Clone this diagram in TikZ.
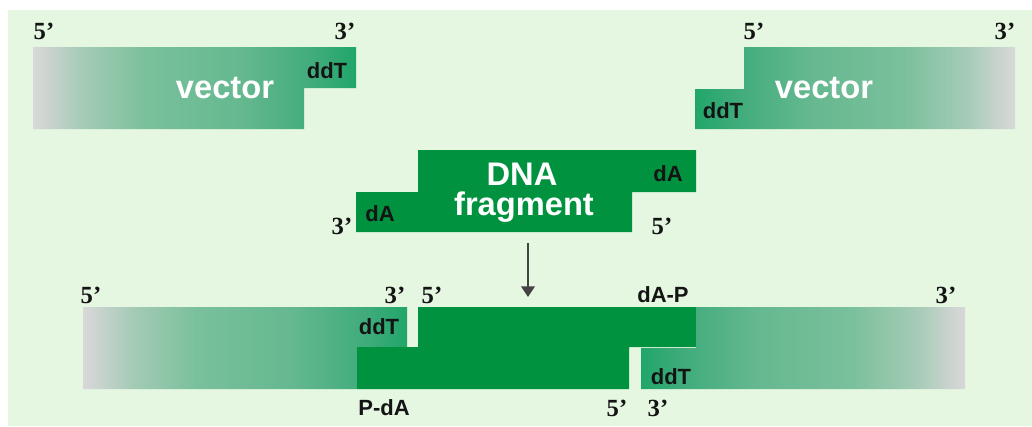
\documentclass[tikz,border=0pt]{standalone}
\usepackage{fontspec}
\setmainfont{Liberation Sans}
\newfontfamily\primefont{Liberation Serif}
\usetikzlibrary{arrows.meta}
\definecolor{bg}{RGB}{229,246,225}
\definecolor{dna}{RGB}{0,146,63}
\definecolor{txt}{RGB}{20,20,20}
\definecolor{arrc}{RGB}{68,68,68}
\definecolor{va}{RGB}{216,216,216}
\definecolor{vb}{RGB}{205,212,208}
\definecolor{vc}{RGB}{165,203,182}
\definecolor{vd}{RGB}{122,192,156}
\definecolor{ve}{RGB}{100,184,143}
\definecolor{vf}{RGB}{62,171,122}
\definecolor{vg}{RGB}{32,166,106}
\pgfdeclarehorizontalshading{vecLR}{100bp}{color(0bp)=(va); color(25bp)=(va); color(27bp)=(vb); color(32.5bp)=(vc); color(42.5bp)=(vd); color(57.5bp)=(ve); color(69bp)=(vf); color(75bp)=(vg); color(100bp)=(vg)}
\pgfdeclarehorizontalshading{vecRL}{100bp}{color(0bp)=(vg); color(25bp)=(vg); color(31bp)=(vf); color(42.5bp)=(ve); color(57.5bp)=(vd); color(67.5bp)=(vc); color(73bp)=(vb); color(75bp)=(va); color(100bp)=(va)}
\tikzset{
  lab/.style={inner sep=0pt, text=txt, font=\fontsize{16.5}{18}\selectfont\bfseries},
  prime/.style={inner sep=0pt, text=txt, font=\fontsize{18.5}{20}\selectfont\primefont\bfseries},
  big/.style={inner sep=0pt, text=white, font=\fontsize{24.5}{26}\selectfont\bfseries},
  arr/.style={draw=arrc, line width=2.2pt, -{Triangle[width=10pt,length=8pt]}}
}
\begin{document}
\begin{tikzpicture}[x=0.75pt,y=-0.75pt]
\useasboundingbox (0,0) rectangle (1032,426);
\fill[bg] (8,10) rectangle (1032,426);
% top-left vector
\shade[shading=vecLR] (33,47) -- (356,47) -- (356,88) -- (304,88) -- (304,129) -- (33,129) -- cycle;
% top-right vector
\shade[shading=vecRL] (744,47) -- (1015,47) -- (1015,129) -- (695,129) -- (695,89) -- (744,89) -- cycle;
% DNA fragment
\fill[dna] (418,150) -- (696,150) -- (696,192) -- (632,192) -- (632,232) -- (356,232) -- (356,192) -- (418,192) -- cycle;
% bottom-left vector
\shade[shading=vecLR] (83,307) -- (407,307) -- (407,347) -- (357,347) -- (357,389) -- (83,389) -- cycle;
% bottom fragment
\fill[dna] (418,307) -- (696,307) -- (696,347) -- (629,347) -- (629,389) -- (357,389) -- (357,347) -- (418,347) -- cycle;
% bottom-right vector
\shade[shading=vecRL] (696,307) -- (965,307) -- (965,389) -- (641,389) -- (641,348) -- (696,348) -- cycle;

% top labels
\node[prime] (t5l) at (44,31) {5’};
\node[prime] (t3l) at (345,31) {3’};
\node[lab] (tddtl) at (327,71) {ddT};
\node[big] (tvecl) at (225,88) {vector};
\node[prime] (t5r) at (754,31) {5’};
\node[prime] (t3r) at (1005,31) {3’};
\node[lab] (tddtr) at (723,111) {ddT};
\node[big] (tvecr) at (824,88) {vector};

% fragment labels
\node[big] (fdna) at (522,174) {DNA};
\node[big] (ffrag) at (524,207) {fragment};
\node[lab] (fdar) at (668,174) {dA};
\node[lab] (fdal) at (380,214) {dA};
\node[prime] (f3) at (342,226) {3’};
\node[prime] (f5) at (662,226) {5’};

% arrow
\coordinate (as) at (528,243);
\coordinate (ae) at (528,297);
\draw[arr] (as) -- (ae);

% bottom labels
\node[prime] (b5l) at (91,295) {5’};
\node[prime] (b3a) at (395,295) {3’};
\node[prime] (b5a) at (432,295) {5’};
\node[lab] (bdap) at (663,295) {dA-P};
\node[prime] (b3r) at (946,295) {3’};
\node[lab] (bddtl) at (379,327) {ddT};
\node[lab] (bpda) at (384,408) {P-dA};
\node[prime] (b5b) at (617,408) {5’};
\node[prime] (b3b) at (658,408) {3’};
\node[lab] (bddtr) at (671,377) {ddT};
\end{tikzpicture}
\end{document}
